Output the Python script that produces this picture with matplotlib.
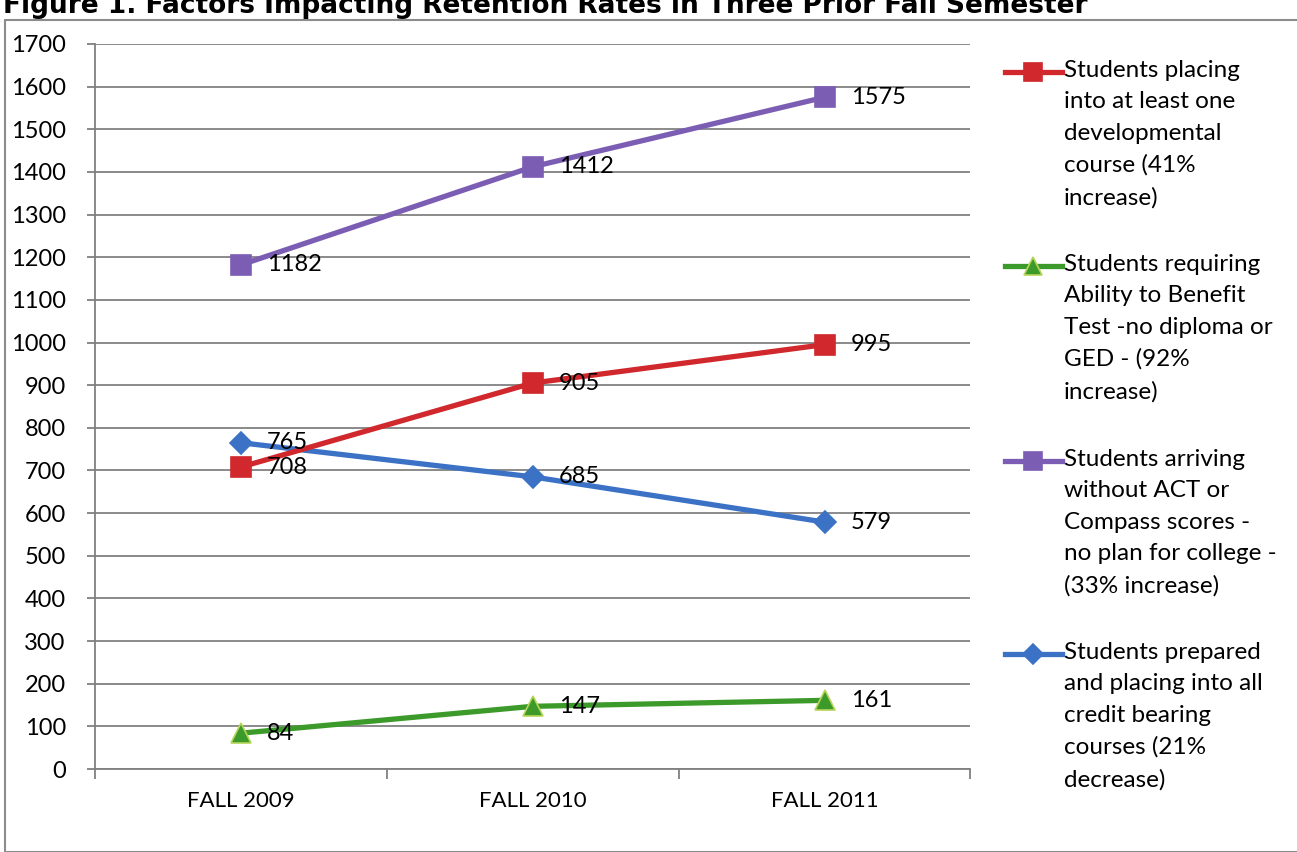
import matplotlib.pyplot as plt
from matplotlib.lines import Line2D
from matplotlib.patches import Rectangle

plt.rcParams['font.family'] = ['Lato', 'DejaVu Sans']

semesters = ["FALL 2009", "FALL 2010", "FALL 2011"]
developmental = [708, 905, 995]
ability_test = [84, 147, 161]
no_scores = [1182, 1412, 1575]
prepared = [765, 685, 579]

legend_labels = [
    "Students placing\ninto at least one\ndevelopmental\ncourse (41%\nincrease)",
    "Students requiring\nAbility to Benefit\nTest -no diploma or\nGED - (92%\nincrease)",
    "Students arriving\nwithout ACT or\nCompass scores -\nno plan for college -\n(33% increase)",
    "Students prepared\nand placing into all\ncredit bearing\ncourses (21%\ndecrease)",
]

red = "#D0282C"
green = "#3C9A2A"
purple = "#7B5EB4"
blue = "#3B72C6"

fig = plt.figure(figsize=(12.97, 8.52), dpi=100)
ax = fig.add_axes([0.0732, 0.0974, 0.675, 0.851])

xs = [0.5, 1.5, 2.5]
series = [
    (developmental, red, "s", red),
    (ability_test, green, "^", "#B8D45A"),
    (no_scores, purple, "s", purple),
    (prepared, blue, "D", blue),
]
draw_order = [3, 0, 2, 1]
for i in draw_order:
    vals, c, m, ec = series[i]
    ms = 11 if m == "D" else 14
    ax.plot(xs, vals, color=c, lw=3.8, marker=m, markersize=ms,
            markerfacecolor=c, markeredgecolor=ec, markeredgewidth=1.2, zorder=3)
    for x, v in zip(xs, vals):
        ax.annotate(str(v), (x, v), xytext=(19, 0), textcoords="offset points",
                    ha="left", va="center", fontsize=17, color="black", zorder=4)

ax.set_xlim(0, 3)
ax.set_ylim(0, 1700)
ax.set_yticks(range(0, 1701, 100))
ax.set_xticks([0, 1, 2, 3])
ax.set_xticklabels([])
ax.set_xticks(xs, minor=True)
ax.set_xticklabels(semesters, minor=True, fontsize=16)
ax.tick_params(axis="x", which="major", length=7, color="#808080", width=1.3)
ax.tick_params(axis="x", which="minor", length=0, pad=16)
ax.tick_params(axis="y", length=6, color="#808080", width=1.3, labelsize=17, pad=15)
ax.grid(axis="y", color="#8a8a8a", lw=1.4)
ax.set_axisbelow(True)
for s in ["top", "right"]:
    ax.spines[s].set_visible(False)
ax.spines["left"].set_color("#808080")
ax.spines["bottom"].set_color("#808080")
ax.spines["left"].set_linewidth(1.3)
ax.spines["bottom"].set_linewidth(1.3)

# legend drawn on the figure, handle aligned with the first text line
legend_order = [0, 1, 2, 3]
tops = [72, 266, 461, 654]
for i, top in zip(legend_order, tops):
    vals, c, m, ec = series[i]
    yf = 1 - top / 852
    ms = 10 if m == "D" else 13
    fig.add_artist(Line2D([1005 / 1297, 1062 / 1297], [yf, yf], color=c, lw=3.8))
    fig.add_artist(Line2D([1033 / 1297], [yf], color=c, marker=m, markersize=ms,
                          markerfacecolor=c, markeredgecolor=ec, markeredgewidth=1.2))
    fig.text(1064 / 1297, yf + 12 / 852, legend_labels[i], fontsize=17.5,
             va="top", ha="left", linespacing=1.61)

fig.add_artist(Rectangle((5 / 1297, 0), 1.0, 1 - 20 / 852, transform=fig.transFigure,
                         fill=False, edgecolor="#8c8c8c", lw=1.5))
fig.text(0.002, 1 - 13 / 852, "Figure 1. Factors Impacting Retention Rates in Three Prior Fall Semester",
         fontsize=19, fontweight="bold", family="DejaVu Sans", va="baseline", ha="left")

fig.savefig("out.png", dpi=100)
